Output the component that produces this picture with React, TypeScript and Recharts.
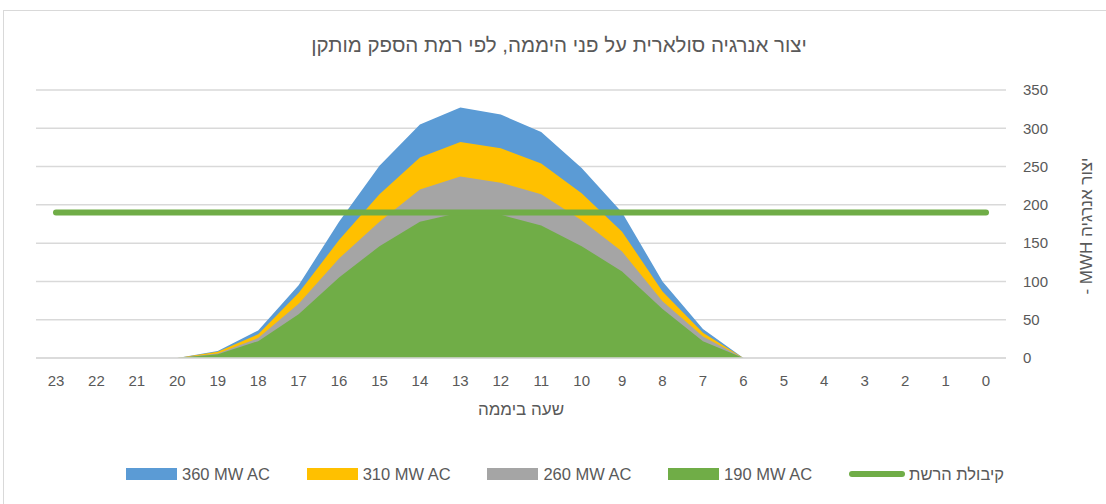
import React from 'react';
import { ComposedChart, Area, Line, XAxis, YAxis, CartesianGrid } from 'recharts';

// hours of the day, 0..23 (axis is drawn reversed)
const hours = [0, 1, 2, 3, 4, 5, 6, 7, 8, 9, 10, 11, 12, 13, 14, 15, 16, 17, 18, 19, 20, 21, 22, 23];

// energy production per hour, MWH
const pv360 = [0, 0, 0, 0, 0, 0, 0, 38, 100, 190, 248, 295, 318, 327, 305, 251, 178, 95, 36, 9, 0, 0, 0, 0];
const pv310 = [0, 0, 0, 0, 0, 0, 0, 33, 87, 165, 215, 254, 274, 282, 262, 214, 154, 85, 31, 8, 0, 0, 0, 0];
const pv260 = [0, 0, 0, 0, 0, 0, 0, 28, 74, 139, 180, 214, 229, 237, 220, 178, 130, 71, 26, 6, 0, 0, 0, 0];
const pv190 = [0, 0, 0, 0, 0, 0, 0, 22, 64, 113, 146, 173, 187, 190, 178, 146, 105, 57, 22, 5, 0, 0, 0, 0];
const gridCapacity = [190, 190, 190, 190, 190, 190, 190, 190, 190, 190, 190, 190, 190, 190, 190, 190, 190, 190, 190, 190, 190, 190, 190, 190];

const yTicks = [0, 50, 100, 150, 200, 250, 300, 350];

const seriesNames = ['360 MW AC', '310 MW AC', '260 MW AC', '190 MW AC'];
const seriesColors = ['#5B9BD5', '#FFC000', '#A5A5A5', '#70AD47'];
const lineName = 'קיבולת הרשת';

const data = hours.map((h, i) => ({
  hour: h,
  s360: pv360[i],
  s310: pv310[i],
  s260: pv260[i],
  s190: pv190[i],
  capacity: gridCapacity[i],
}));

const FONT = '"Liberation Sans", "DejaVu Sans", sans-serif';
const TEXT = '#595959';

export default function App() {
  const keys = ['s360', 's310', 's260', 's190'];
  return (
    <div style={{ position: 'absolute', left: 0, top: 0, width: 1106, height: 504, background: '#fff', fontFamily: FONT, overflow: 'hidden' }}>
      <div style={{ position: 'absolute', left: 3, top: 10, width: 1120, height: 520, border: '1px solid #d9d9d9' }} />

      <div style={{ position: 'absolute', left: 0, width: 1118, top: 33, textAlign: 'center', fontSize: 20.5, color: TEXT, direction: 'rtl' }}>
        יצור אנרגיה סולארית על פני היממה, לפי רמת הספק מותקן
      </div>

      <div style={{ position: 'absolute', left: 0, top: 0 }}>
        <ComposedChart width={1106} height={504} data={data} margin={{ top: 90, right: 40, left: 36, bottom: 116 }}>
          <CartesianGrid vertical={false} stroke="#d9d9d9" strokeWidth={1.5} />
          <XAxis
            dataKey="hour"
            type="category"
            scale="point"
            reversed
            padding={{ left: 20, right: 20 }}
            axisLine={{ stroke: '#d9d9d9', strokeWidth: 1.5 }}
            tickLine={false}
            tickSize={0}
            tickMargin={17}
            interval={0}
            tick={{ fill: TEXT, fontSize: 15, fontFamily: FONT }}
          />
          <YAxis
            orientation="right"
            width={60}
            domain={[0, 350]}
            ticks={yTicks}
            axisLine={false}
            tickLine={false}
            tickSize={0}
            tickMargin={17}
            tick={{ fill: TEXT, fontSize: 15, fontFamily: FONT, textAnchor: 'start' }}
          />
          {keys.map((k, i) => (
            <Area
              key={k}
              type="linear"
              dataKey={k}
              name={seriesNames[i]}
              fill={seriesColors[i]}
              fillOpacity={1}
              stroke="none"
              isAnimationActive={false}
              dot={false}
              activeDot={false}
            />
          ))}
          <Line
            type="linear"
            dataKey="capacity"
            name={lineName}
            stroke="#70AD47"
            strokeWidth={6}
            strokeLinecap="round"
            dot={false}
            activeDot={false}
            isAnimationActive={false}
          />
        </ComposedChart>
      </div>

      <div style={{ position: 'absolute', left: 421, width: 200, top: 400, textAlign: 'center', fontSize: 17, color: TEXT, direction: 'rtl' }}>
        שעה ביממה
      </div>

      <div
        style={{
          position: 'absolute',
          left: 1087 - 100,
          top: 226 - 10,
          width: 200,
          height: 20,
          lineHeight: '20px',
          textAlign: 'center',
          fontSize: 17,
          color: TEXT,
          direction: 'rtl',
          transform: 'rotate(-90deg)',
          transformOrigin: '100px 10px',
        }}
      >
        יצור אנרגיה MWH -
      </div>

      {seriesNames.map((n, i) => (
        <div key={n} style={{ position: 'absolute', left: 126 + i * 180.7, top: 464, height: 20, display: 'flex', alignItems: 'center' }}>
          <div style={{ width: 51, height: 12, background: seriesColors[i] }} />
          <span style={{ marginLeft: 5, fontSize: 16.5, color: TEXT, whiteSpace: 'nowrap' }}>{n}</span>
        </div>
      ))}
      <div style={{ position: 'absolute', left: 849, top: 464, height: 20, display: 'flex', alignItems: 'center' }}>
        <div style={{ width: 56, height: 6, borderRadius: 3, background: '#70AD47' }} />
        <span style={{ marginLeft: 4, fontSize: 16.5, color: TEXT, whiteSpace: 'nowrap', direction: 'rtl' }}>{lineName}</span>
      </div>
    </div>
  );
}
